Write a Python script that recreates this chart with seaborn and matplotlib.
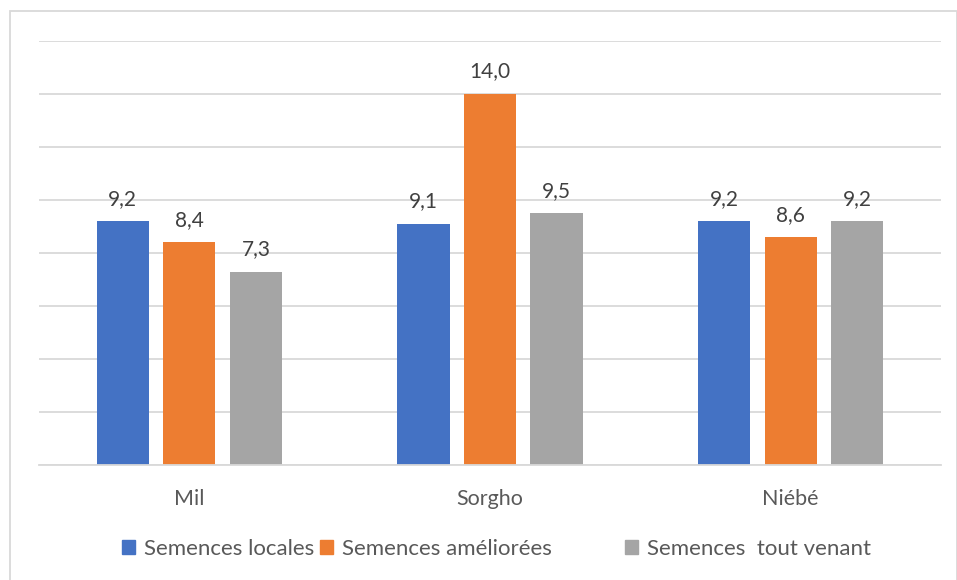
import matplotlib
matplotlib.use("Agg")
import matplotlib.pyplot as plt
import matplotlib.patches as mpatches
import seaborn as sns
import pandas as pd

categories = ["Mil", "Sorgho", "Niébé"]
series_names = ["Semences locales", "Semences améliorées", "Semences  tout venant"]
locales = [9.2, 9.1, 9.2]
ameliorees = [8.4, 14.0, 8.6]
tout_venant = [7.3, 9.5, 9.2]
colors = ["#4472C4", "#ED7D31", "#A5A5A5"]

rows = []
for name, vals in zip(series_names, [locales, ameliorees, tout_venant]):
    for cat, v in zip(categories, vals):
        rows.append({"culture": cat, "semences": name, "valeur": v})
df = pd.DataFrame(rows)

sns.set_theme(style="white")
plt.rcParams["font.family"] = ["Lato", "DejaVu Sans"]

fig = plt.figure(figsize=(9.57, 5.8), dpi=100)
ax = fig.add_axes([39 / 957, 1 - 465 / 580, 902 / 957, 424 / 580])

sns.barplot(data=df, x="culture", y="valeur", hue="semences",
            order=categories, hue_order=series_names, palette=colors,
            width=0.664, gap=0.217, saturation=1, errorbar=None,
            linewidth=0, ax=ax, legend=False)

ax.set_xlim(-0.5, 2.5)
ax.set_ylim(0, 16)
ax.set_yticks(range(0, 17, 2))
ax.yaxis.grid(True, color="#D9D9D9", linewidth=1.3)
ax.set_axisbelow(True)
ax.tick_params(axis="y", left=False, labelleft=False)
ax.tick_params(axis="x", bottom=False, pad=11, labelsize=15.5, colors="#595959")
for s in ["top", "right", "left"]:
    ax.spines[s].set_visible(False)
ax.spines["bottom"].set_color("#D9D9D9")
ax.spines["bottom"].set_linewidth(1.3)
ax.set_xlabel("")
ax.set_ylabel("")

for container in ax.containers:
    labels = [f"{b.get_height():.1f}".replace(".", ",") for b in container]
    ax.bar_label(container, labels=labels, padding=9, fontsize=15, color="#404040")

# Legend entries placed individually along the bottom
legend_x = [122, 320, 625]
for c, n, x in zip(colors, series_names, legend_x):
    fig.legend(handles=[mpatches.Patch(color=c, label=n)], loc="center left",
               bbox_to_anchor=(x / 957, 1 - 549 / 580), frameon=False,
               fontsize=16, handlelength=0.6, handleheight=0.6,
               handletextpad=0.4, borderpad=0, borderaxespad=0,
               labelcolor="#595959")

# Outer frame around the chart area
fig.patches.append(mpatches.Rectangle((10 / 957, -0.01), 947 / 957, 1 - 11 / 580 + 0.01,
                                      transform=fig.transFigure, fill=False,
                                      edgecolor="#D9D9D9", linewidth=1.3))

fig.savefig("out.png", dpi=100, facecolor="white")
